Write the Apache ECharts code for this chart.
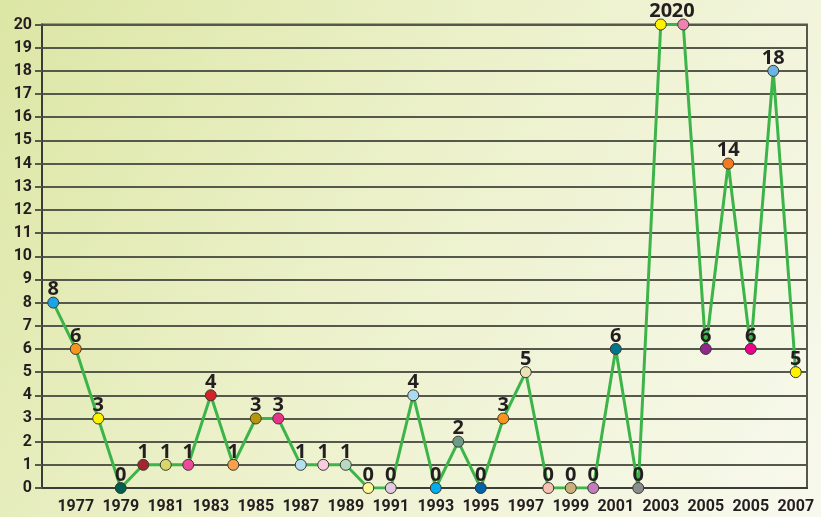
<!DOCTYPE html>
<html>

<head>
    <meta charset="utf-8">
    <script src="https://cdn.jsdelivr.net/npm/echarts@6/dist/echarts.min.js"></script>
    <style>
        body { margin: 0; }
    </style>
</head>

<body>
    <div id="main" style="width: 821px;height:517px;"></div>
    <script type="text/javascript">
        // categories as printed on the original axis (only odd positions are shown)
        var years = ['1976', '1977', '1978', '1979', '1980', '1981', '1982', '1983', '1984', '1985',
            '1986', '1987', '1988', '1989', '1990', '1991', '1992', '1993', '1994', '1995',
            '1996', '1997', '1998', '1999', '2000', '2001', '2002', '2003', '2004', '2005',
            '2004', '2005', '2006', '2007'];

        var counts = [8, 6, 3, 0, 1, 1, 1, 4, 1, 3,
            3, 1, 1, 1, 0, 0, 4, 0, 2, 0,
            3, 5, 0, 0, 0, 6, 0, 20, 20, 6,
            14, 6, 18, 5];

        var dotColors = ['#1aa3e8', '#f7941d', '#fff200', '#00604f', '#a3262e', '#d8d86a', '#ec4b9b', '#d2232a', '#f9a04e', '#b8960c',
            '#e5358a', '#b5def0', '#f8ccdf', '#b8d8c6', '#fff799', '#e2cbe2', '#a9daf0', '#00aeef', '#6f9a8a', '#0062a8',
            '#f7941d', '#ebe3b8', '#f7c0b4', '#c9b07a', '#c67bc0', '#00758f', '#8a8c8e', '#fff200', '#ee82b0', '#92278f',
            '#f47920', '#ec008c', '#6cb4e4', '#fff200'];

        var yTicks = { min: 0, max: 20, step: 1 };

        var axisFont = "'Roboto', 'DejaVu Sans Condensed', sans-serif";

        var myChart = echarts.init(document.getElementById('main'));

        var points = counts.map(function (v, i) {
            return { value: v, itemStyle: { color: dotColors[i] } };
        });

        function oddOnly(idx) {
            return idx % 2 === 1;
        }

        option = {
            backgroundColor: {
                type: 'linear', x: 0, y: 0, x2: 1, y2: 1,
                colorStops: [
                    { offset: 0, color: '#dce6a4' },
                    { offset: 0.45, color: '#ecf1ca' },
                    { offset: 1, color: '#f8f9ee' }
                ]
            },
            grid: {
                left: 42, right: 14, top: 24.5, bottom: 29,
                show: true,
                borderColor: '#55594c',
                borderWidth: 2,
                backgroundColor: 'transparent'
            },
            xAxis: {
                type: 'category',
                data: years,
                boundaryGap: true,
                axisLine: { lineStyle: { color: '#3a3d35', width: 2 } },
                axisTick: {
                    interval: oddOnly,
                    alignWithLabel: true,
                    length: 8,
                    lineStyle: { color: '#3a3d35', width: 2 }
                },
                axisLabel: {
                    interval: oddOnly,
                    margin: 11,
                    color: '#231f20',
                    fontFamily: axisFont,
                    fontWeight: 'bold',
                    fontSize: 16
                }
            },
            yAxis: {
                type: 'value',
                min: yTicks.min,
                max: yTicks.max,
                interval: yTicks.step,
                axisLine: { show: true, lineStyle: { color: '#3a3d35', width: 2 } },
                axisTick: { show: true, length: 7, lineStyle: { color: '#55594c', width: 2 } },
                splitLine: { lineStyle: { color: '#55594c', width: 2 } },
                axisLabel: {
                    margin: 10,
                    color: '#231f20',
                    fontFamily: axisFont,
                    fontWeight: 'bold',
                    fontSize: 16
                }
            },
            series: [{
                type: 'line',
                data: points,
                symbol: 'circle',
                symbolSize: 11,
                lineStyle: { color: '#3db44a', width: 3 },
                itemStyle: { borderColor: '#3a3a30', borderWidth: 1 },
                label: {
                    show: true,
                    position: 'top',
                    distance: -3,
                    lineHeight: 20,
                    color: '#231f20',
                    fontFamily: 'Open Sans',
                    fontWeight: 'bold',
                    fontSize: 20
                },
                z: 3
            }]
        };

        myChart.setOption(option);
    </script>
</body>

</html>
